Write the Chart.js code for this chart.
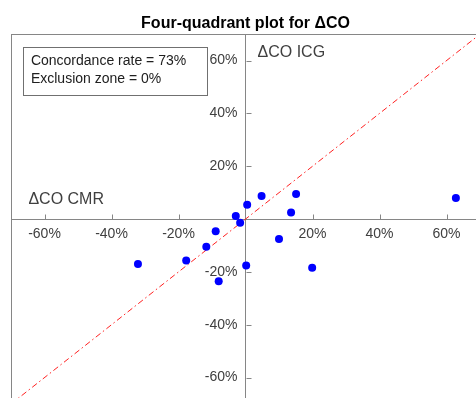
<!DOCTYPE html>
<html>
<head>
<meta charset="utf-8">
<script src="https://cdn.jsdelivr.net/npm/chart.js@4/dist/chart.umd.min.js"></script>
<style>
  html, body { margin: 0; padding: 0; overflow: hidden; background: #fff; }
  canvas { display: block; }
</style>
</head>
<body>
<canvas id="chart" width="490" height="410"></canvas>
<script>
// Percent change in cardiac output: CMR (x) versus ICG (y)
const cmrChange = [-2.9, -1.6, 0.5, 4.8, 15.1, 13.6, 62.8, 10.0, 0.2, 19.9, -8.9, -11.7, -17.7, -32.1, -8.0];
const icgChange = [1.2, -1.4, 5.4, 8.7, 9.5, 2.5, 8.0, -7.5, -17.6, -18.4, -4.6, -10.5, -15.7, -17.0, -23.5];
const tickValues = [-60, -40, -20, 20, 40, 60];
const axisLimits = [-70, 70];
const identityLine = [-70, 70];
const titleText = 'Four-quadrant plot for \u0394CO';
const xAxisName = '\u0394CO CMR';
const yAxisName = '\u0394CO ICG';
const summaryLines = ['Concordance rate = 73%', 'Exclusion zone = 0%'];

const FONT = "'Liberation Sans', Arial, sans-serif";
const AXIS_GREY = '#868686';
const TEXT_GREY = '#404040';
const pct = v => v + '%';

const points = cmrChange.map((x, i) => ({ x, y: icgChange[i] }));
const diagonal = identityLine.map(v => ({ x: v, y: v }));

// Frame, inward tick marks, y tick labels, axis names and the summary box
const decorations = {
  id: 'decorations',
  beforeDatasetsDraw(chart) {
    const { ctx, chartArea: a } = chart;
    ctx.save();
    ctx.strokeStyle = AXIS_GREY;
    ctx.lineWidth = 1;
    ctx.strokeRect(Math.round(a.left) + 0.5, Math.round(a.top) + 0.5,
                   Math.round(a.right - a.left), Math.round(a.bottom - a.top));
    ctx.restore();
  },
  afterDraw(chart) {
    const { ctx, scales: { x, y } } = chart;
    const x0 = Math.round(x.getPixelForValue(0)) + 0.5;
    const y0 = Math.round(y.getPixelForValue(0)) + 0.5;
    ctx.save();
    ctx.strokeStyle = AXIS_GREY;
    ctx.lineWidth = 1;
    ctx.beginPath();
    tickValues.forEach(v => {
      const px = Math.round(x.getPixelForValue(v)) + 0.5;
      ctx.moveTo(px, y0);
      ctx.lineTo(px, y0 - 5);
      const py = Math.round(y.getPixelForValue(v)) + 0.5;
      ctx.moveTo(x0, py);
      ctx.lineTo(x0 + 5, py);
    });
    ctx.stroke();

    // y tick labels, left of the vertical axis
    ctx.fillStyle = TEXT_GREY;
    ctx.font = '14px ' + FONT;
    ctx.textAlign = 'right';
    ctx.textBaseline = 'middle';
    tickValues.forEach(v => ctx.fillText(pct(v), x0 - 9, y.getPixelForValue(v)));

    // axis names
    ctx.font = '16px ' + FONT;
    ctx.textAlign = 'left';
    ctx.fillText(yAxisName, x0 + 11, y.getPixelForValue(63));
    ctx.fillText(xAxisName, x.getPixelForValue(-64.8), y.getPixelForValue(7.4));

    // summary box
    const bx = x.getPixelForValue(-66.3), by = y.getPixelForValue(65.3);
    ctx.strokeStyle = '#707070';
    ctx.strokeRect(Math.round(bx) + 0.5, Math.round(by) + 0.5, 184, 48);
    ctx.fillStyle = '#202020';
    ctx.font = '14px ' + FONT;
    summaryLines.forEach((t, i) => ctx.fillText(t, bx + 7.5, by + 14.5 + i * 18.5));
    ctx.restore();
  }
};

const axisCommon = {
  type: 'linear',
  min: axisLimits[0],
  max: axisLimits[1],
  grid: { display: false, drawTicks: false },
  border: { display: true, color: AXIS_GREY, width: 1 },
  afterBuildTicks: scale => { scale.ticks = tickValues.map(v => ({ value: v })); }
};

new Chart(document.getElementById('chart'), {
  type: 'scatter',
  data: {
    datasets: [
      {
        label: 'Patients',
        data: points,
        backgroundColor: '#0000ff',
        borderWidth: 0,
        pointRadius: 4,
        pointHoverRadius: 4
      },
      {
        type: 'line',
        label: 'Line of identity',
        data: diagonal,
        borderColor: '#ff2020',
        borderWidth: 1,
        borderDash: [6, 3, 1.5, 3],
        pointRadius: 0,
        fill: false
      }
    ]
  },
  options: {
    responsive: false,
    animation: false,
    events: [],
    layout: { padding: { left: 11, right: 10, top: 0, bottom: 6 } },
    scales: {
      x: Object.assign({}, axisCommon, {
        position: { y: 0 },
        ticks: {
          color: TEXT_GREY,
          font: { family: FONT, size: 14 },
          padding: 7,
          maxRotation: 0,
          callback: pct
        }
      }),
      y: Object.assign({}, axisCommon, {
        position: { x: 0 },
        ticks: { display: false }
      })
    },
    plugins: {
      legend: { display: false },
      tooltip: { enabled: false },
      title: {
        display: true,
        text: titleText,
        color: '#000',
        font: { family: FONT, size: 16, weight: 'bold' },
        padding: { top: 14, bottom: 1 }
      }
    }
  },
  plugins: [decorations]
});
</script>
</body>
</html>
